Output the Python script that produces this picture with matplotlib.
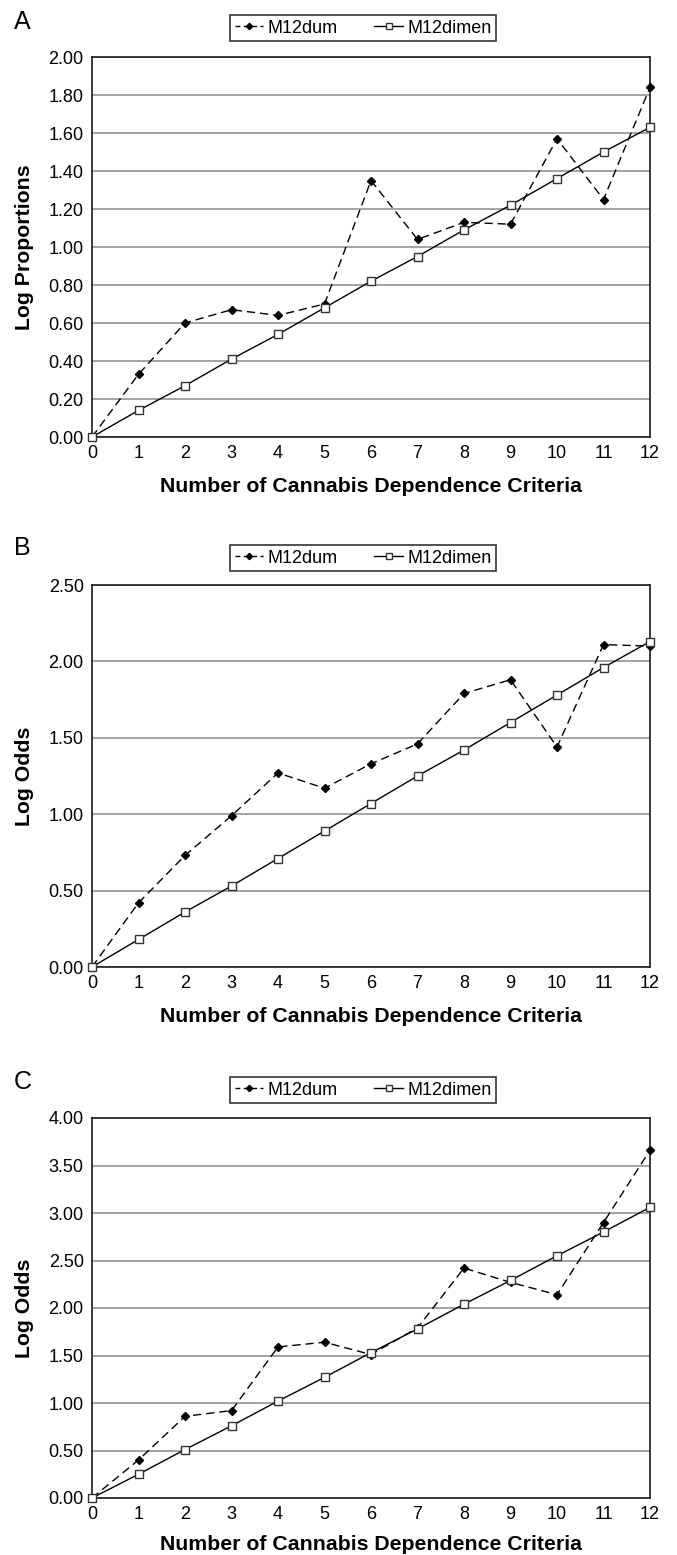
import matplotlib
matplotlib.use("Agg")
import matplotlib.pyplot as plt
from matplotlib.lines import Line2D

plt.rcParams['font.family'] = ['Liberation Sans', 'DejaVu Sans']

criteria = list(range(13))

a_dum = [0.00, 0.33, 0.60, 0.67, 0.64, 0.70, 1.35, 1.04, 1.13, 1.12, 1.57, 1.25, 1.84]
a_dimen = [0.00, 0.14, 0.27, 0.41, 0.54, 0.68, 0.82, 0.95, 1.09, 1.22, 1.36, 1.50, 1.63]

b_dum = [0.00, 0.42, 0.73, 0.99, 1.27, 1.17, 1.33, 1.46, 1.79, 1.88, 1.44, 2.11, 2.10]
b_dimen = [0.00, 0.18, 0.36, 0.53, 0.71, 0.89, 1.07, 1.25, 1.42, 1.60, 1.78, 1.96, 2.13]

c_dum = [0.00, 0.40, 0.86, 0.92, 1.59, 1.64, 1.51, 1.79, 2.42, 2.27, 2.14, 2.90, 3.66]
c_dimen = [0.00, 0.25, 0.51, 0.76, 1.02, 1.27, 1.53, 1.78, 2.04, 2.29, 2.55, 2.80, 3.06]

a_yticks = [0.0, 0.2, 0.4, 0.6, 0.8, 1.0, 1.2, 1.4, 1.6, 1.8, 2.0]
b_yticks = [0.0, 0.5, 1.0, 1.5, 2.0, 2.5]
c_yticks = [0.0, 0.5, 1.0, 1.5, 2.0, 2.5, 3.0, 3.5, 4.0]

panel_letters = ["A", "B", "C"]
y_labels = ["Log Proportions", "Log Odds", "Log Odds"]
x_label = "Number of Cannabis Dependence Criteria"
series_names = ["M12dum", "M12dimen"]

W, H = 677, 1555
fig = plt.figure(figsize=(W / 100, H / 100), dpi=100)

def fx(px):
    return px / W

def fy(py):
    return 1 - py / H

# pixel boxes (left, top, right, bottom)
boxes = [(92, 57, 650, 437), (92, 585, 650, 967), (92, 1118, 650, 1498)]
legend_tops = [15, 545, 1077]
letter_tops = [10, 536, 1070]
xlabel_base = [55, 55, 52]

data = [(a_dum, a_dimen, a_yticks), (b_dum, b_dimen, b_yticks), (c_dum, c_dimen, c_yticks)]

for i, ((dum, dimen, yticks), (l, t, r, b)) in enumerate(zip(data, boxes)):
    ax = fig.add_axes([fx(l), fy(b), (r - l) / W, (b - t) / H])
    ax.plot(criteria, dum, linestyle=(0, (6, 3.5)), color='black', lw=1.0,
            marker='D', markersize=3.6, markerfacecolor='black', markeredgecolor='black',
            zorder=3, clip_on=False)
    ax.plot(criteria, dimen, linestyle='-', color='black', lw=1.0,
            marker='s', markersize=5.5, markerfacecolor='white', markeredgecolor='#333333',
            markeredgewidth=1.0, zorder=3, clip_on=False)
    ax.set_xlim(0, 12)
    ax.set_ylim(0, yticks[-1])
    ax.set_xticks(criteria)
    ax.set_xticklabels([str(c) for c in criteria], fontsize=13)
    ax.set_yticks(yticks)
    ax.set_yticklabels([f"{v:.2f}" for v in yticks], fontsize=13)
    ax.yaxis.grid(True, color='#8a8a8a', lw=1.1)
    ax.set_axisbelow(True)
    for s in ax.spines.values():
        s.set_linewidth(1.2)
        s.set_color('#1a1a1a')
    ax.tick_params(axis='x', length=0, pad=5.5)
    ax.tick_params(axis='y', length=0, pad=6)

    fig.text(fx((l + r) / 2), fy(b + xlabel_base[i]), x_label, fontsize=15.3,
             fontweight='bold', ha='center', va='baseline')
    fig.text(fx(25), fy((t + b) / 2), y_labels[i], fontsize=15.3, fontweight='bold',
             rotation=90, ha='center', va='center')

    handles = [
        Line2D([], [], linestyle=(0, (3.5, 2.5)), color='black', lw=1.0, marker='D',
               markersize=3.2, markerfacecolor='black', markeredgecolor='black'),
        Line2D([], [], linestyle='-', color='black', lw=1.0, marker='s', markersize=4,
               markerfacecolor='white', markeredgecolor='#333333'),
    ]
    leg = fig.legend(handles=handles, labels=series_names, loc='upper left',
                     bbox_to_anchor=(fx(230), fy(legend_tops[i])),
                     ncol=2, fontsize=13, frameon=True, fancybox=False, edgecolor='black',
                     handlelength=1.6, handletextpad=0.25, columnspacing=2.0,
                     borderpad=0.25, borderaxespad=0.0)
    leg.get_frame().set_linewidth(1.2)
    fig.text(fx(14), fy(letter_tops[i]), panel_letters[i], fontsize=18, ha='left', va='top')

fig.savefig("out.png", dpi=100)
